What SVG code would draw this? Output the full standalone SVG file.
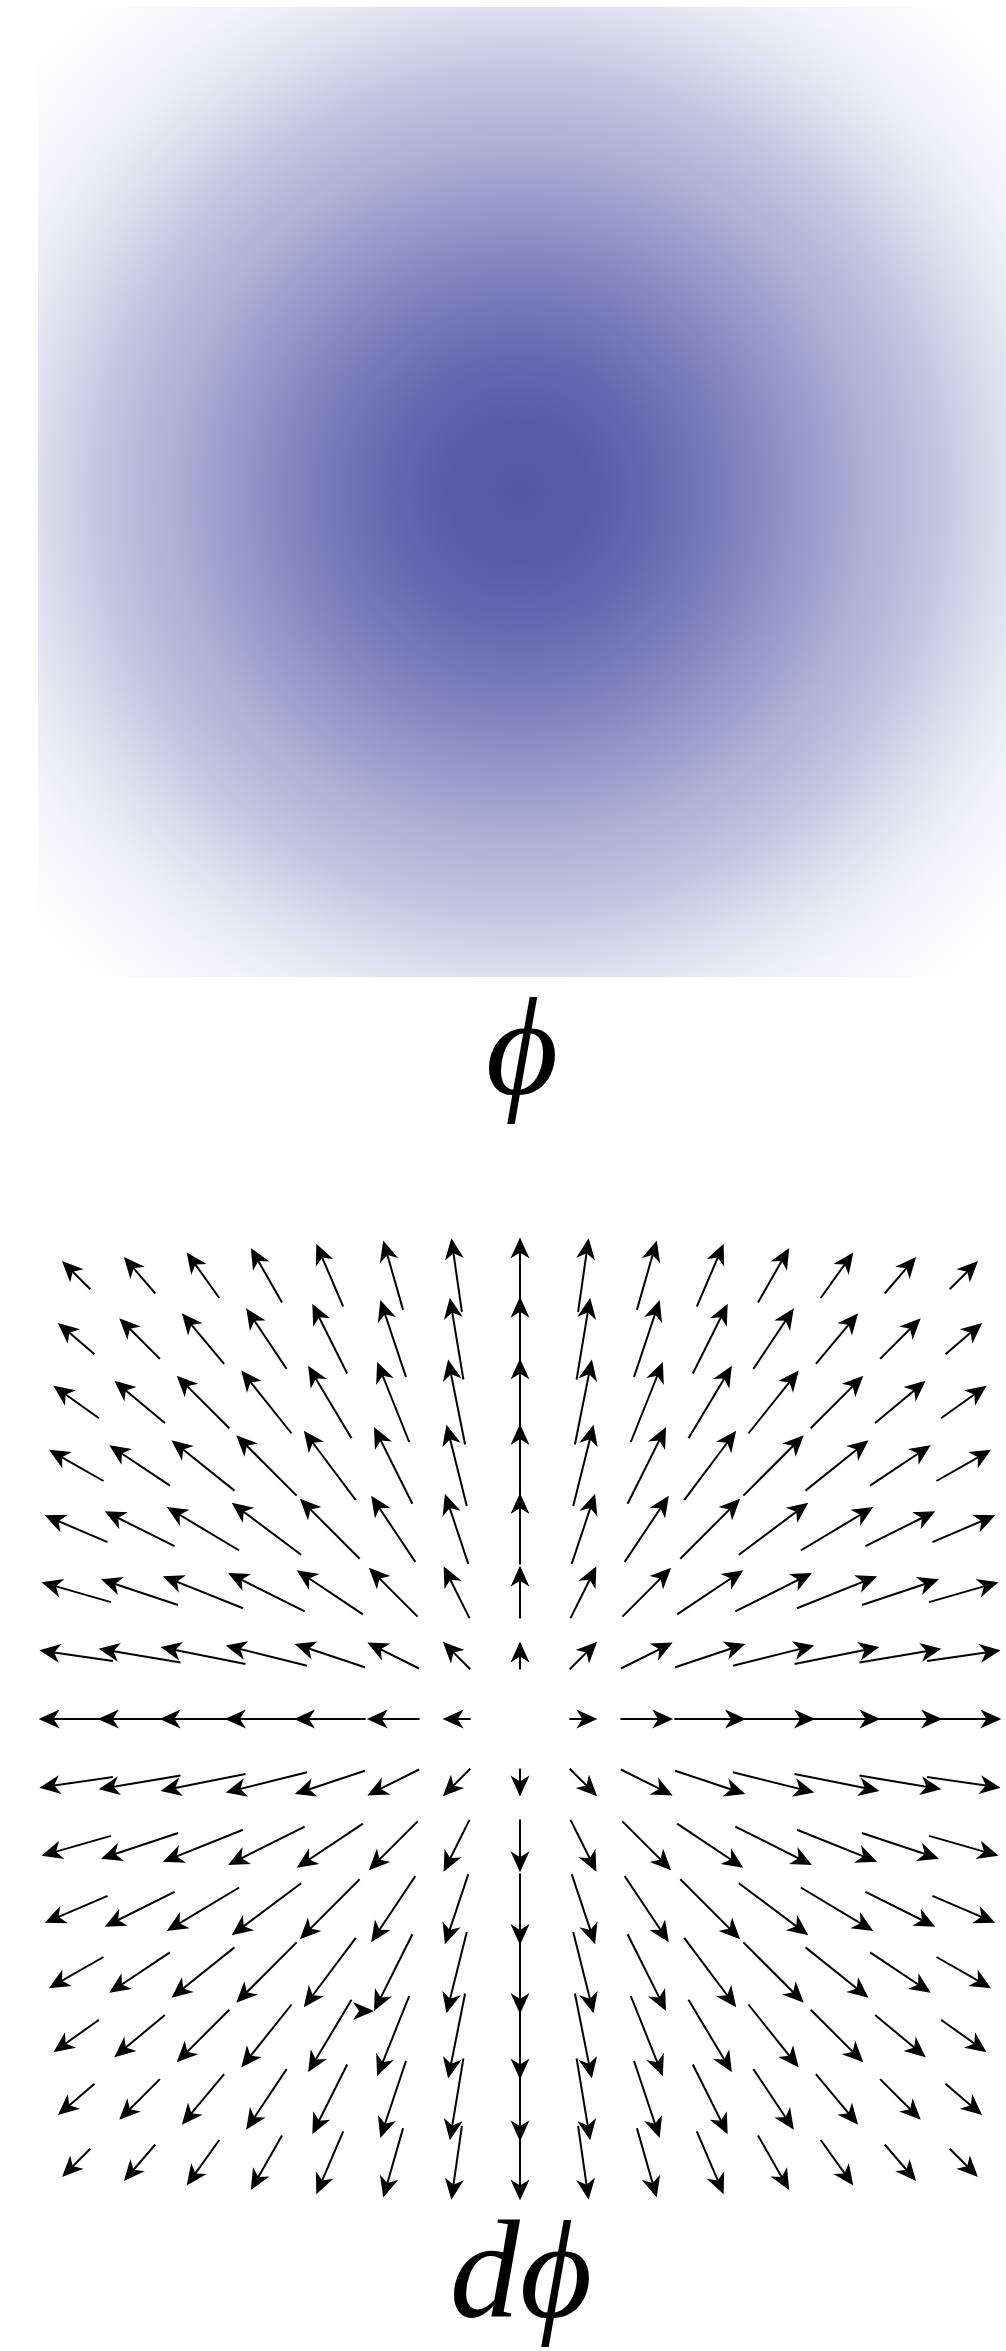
<svg xmlns="http://www.w3.org/2000/svg" width="1006" height="2351" viewBox="0 0 1006 2351">
<style>
.ar{fill:none;stroke:#000;stroke-width:2;marker-end:url(#h)}
.lbl{font-family:"Liberation Serif","Times New Roman",serif;font-style:italic;font-size:140px;fill:#000;text-anchor:middle}
</style>
<defs>
<radialGradient id="bump" gradientUnits="userSpaceOnUse" cx="520" cy="492" r="700">
<stop offset="0" stop-color="#5357a7" stop-opacity="1"/>
<stop offset="0.1" stop-color="#5357a7" stop-opacity="0.97"/>
<stop offset="0.2" stop-color="#5357a7" stop-opacity="0.886"/>
<stop offset="0.3" stop-color="#5357a7" stop-opacity="0.761"/>
<stop offset="0.4" stop-color="#5357a7" stop-opacity="0.615"/>
<stop offset="0.5" stop-color="#5357a7" stop-opacity="0.468"/>
<stop offset="0.6" stop-color="#5357a7" stop-opacity="0.345"/>
<stop offset="0.65" stop-color="#5357a7" stop-opacity="0.26"/>
<stop offset="0.7" stop-color="#5357a7" stop-opacity="0.18"/>
<stop offset="0.75" stop-color="#5357a7" stop-opacity="0.12"/>
<stop offset="0.8" stop-color="#5357a7" stop-opacity="0.075"/>
<stop offset="0.85" stop-color="#5357a7" stop-opacity="0.04"/>
<stop offset="0.9" stop-color="#5357a7" stop-opacity="0.015"/>
<stop offset="0.95" stop-color="#5357a7" stop-opacity="0"/>
</radialGradient>
<marker id="h" markerUnits="userSpaceOnUse" orient="auto" overflow="visible" markerWidth="1" markerHeight="1" refX="0" refY="0">
<path d="M6,0 L-15,-9.5 L-9,0 L-15,9.5 Z" fill="#000"/>
</marker>
<g id="q">
<path class="ar" d="M49.4,0 L71.4,0"/>
<path class="ar" d="M100.4,0 L147.2,0"/>
<path class="ar" d="M154.4,0 L220.0,0"/>
<path class="ar" d="M212.1,0 L289.1,0"/>
<path class="ar" d="M273.6,0 L354.4,0"/>
<path class="ar" d="M338.6,0 L416.2,0"/>
<path class="ar" d="M406.2,0 L475.4,0"/>
<path class="ar" d="M49.7,49.7 L72.9,72.9"/>
<path class="ar" d="M100.9,50.5 L147.3,73.7"/>
<path class="ar" d="M155.1,51.7 L219.6,73.2"/>
<path class="ar" d="M212.9,53.2 L288.5,72.1"/>
<path class="ar" d="M274.5,54.9 L353.6,70.7"/>
<path class="ar" d="M339.5,56.6 L415.4,69.2"/>
<path class="ar" d="M407.0,58.1 L474.7,67.8"/>
<path class="ar" d="M50.5,100.9 L73.7,147.3"/>
<path class="ar" d="M102.4,102.4 L146.9,146.9"/>
<path class="ar" d="M157.1,104.7 L218.3,145.5"/>
<path class="ar" d="M215.3,107.6 L286.6,143.3"/>
<path class="ar" d="M277.0,110.8 L351.5,140.6"/>
<path class="ar" d="M341.9,114.0 L413.3,137.8"/>
<path class="ar" d="M409.1,116.9 L472.7,135.1"/>
<path class="ar" d="M51.7,155.1 L73.2,219.6"/>
<path class="ar" d="M104.7,157.1 L145.5,218.3"/>
<path class="ar" d="M160.3,160.3 L215.9,215.9"/>
<path class="ar" d="M218.9,164.2 L283.5,212.6"/>
<path class="ar" d="M280.8,168.5 L348.1,208.8"/>
<path class="ar" d="M345.5,172.8 L409.9,205.0"/>
<path class="ar" d="M412.4,176.8 L469.7,201.3"/>
<path class="ar" d="M53.2,212.9 L72.1,288.5"/>
<path class="ar" d="M107.6,215.3 L143.3,286.6"/>
<path class="ar" d="M164.2,218.9 L212.6,283.5"/>
<path class="ar" d="M223.4,223.4 L279.5,279.5"/>
<path class="ar" d="M285.5,228.4 L343.8,275.0"/>
<path class="ar" d="M350.1,233.4 L405.7,270.5"/>
<path class="ar" d="M416.5,238.0 L465.9,266.2"/>
<path class="ar" d="M54.9,274.5 L70.7,353.6"/>
<path class="ar" d="M110.8,277.0 L140.6,351.5"/>
<path class="ar" d="M168.5,280.8 L208.8,348.1"/>
<path class="ar" d="M228.4,285.5 L275.0,343.8"/>
<path class="ar" d="M290.7,290.7 L339.1,339.1"/>
<path class="ar" d="M355.1,295.9 L401.1,334.3"/>
<path class="ar" d="M421.0,300.7 L461.7,329.8"/>
<path class="ar" d="M56.6,339.5 L69.2,415.4"/>
<path class="ar" d="M114.0,341.9 L137.8,413.3"/>
<path class="ar" d="M172.8,345.5 L205.0,409.9"/>
<path class="ar" d="M233.4,350.1 L270.5,405.7"/>
<path class="ar" d="M295.9,355.1 L334.3,401.1"/>
<path class="ar" d="M360.1,360.1 L396.5,396.5"/>
<path class="ar" d="M425.5,364.7 L457.5,392.2"/>
<path class="ar" d="M58.1,407.0 L67.8,474.7"/>
<path class="ar" d="M116.9,409.1 L135.1,472.7"/>
<path class="ar" d="M176.8,412.4 L201.3,469.7"/>
<path class="ar" d="M238.0,416.5 L266.2,465.9"/>
<path class="ar" d="M300.7,421.0 L329.8,461.7"/>
<path class="ar" d="M364.7,425.5 L392.2,457.5"/>
<path class="ar" d="M429.7,429.7 L453.7,453.7"/>
</g>
</defs>
<rect id="phi-field" x="38" y="7" width="968" height="970" fill="url(#bump)"/>
<text id="phi-label" class="lbl" x="522" y="1094">ϕ</text>
<g id="dphi-field" transform="translate(520,1719)">
<use href="#q"/>
<use href="#q" transform="rotate(90)"/>
<use href="#q" transform="rotate(180)"/>
<use href="#q" transform="rotate(270)"/>
</g>
<path id="stray-head" d="M374,2011 L353,2002 L359,2011 L353,2020 Z" fill="#000"/>
<text id="dphi-label" class="lbl" x="521" y="2317">dϕ</text>
</svg>
